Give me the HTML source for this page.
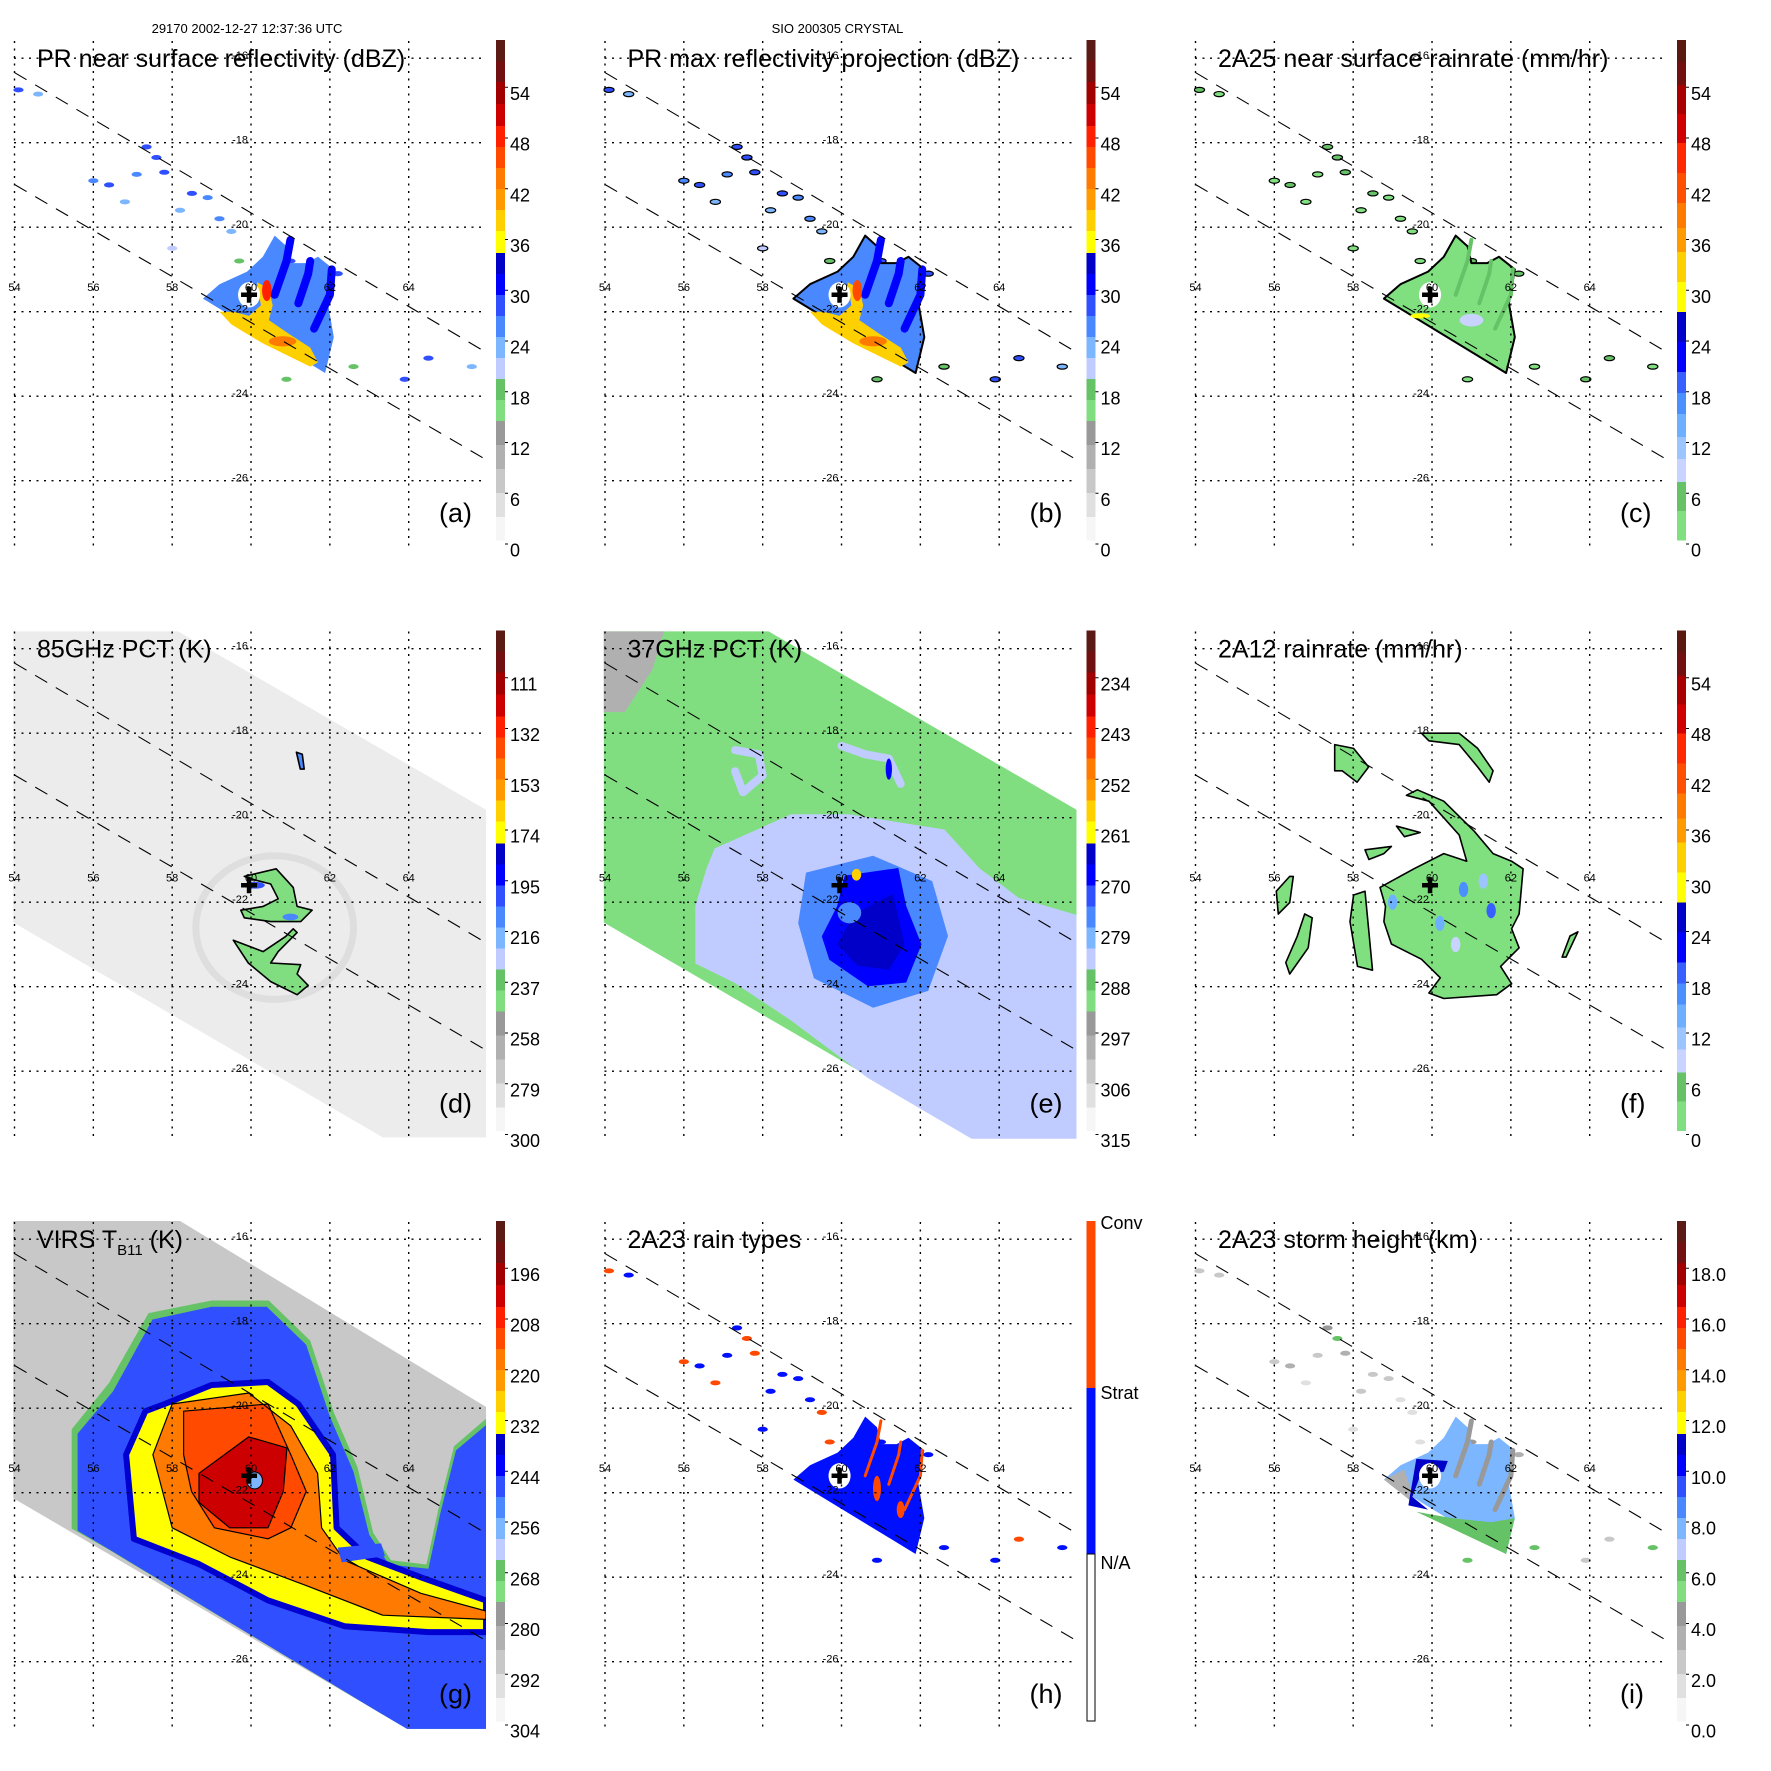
<!DOCTYPE html>
<html><head><meta charset="utf-8">
<style>html,body{margin:0;padding:0;background:#fff;}svg{display:block;font-family:"Liberation Sans",Arial,sans-serif;}</style>
</head><body>
<svg id="fig" width="1771" height="1771" viewBox="0 0 1771 1771"></svg>
<script>
const NS='http://www.w3.org/2000/svg';
// ---------- data ----------
const lonTicks=[54,56,58,60,62,64];
const latTicks=[-16,-18,-20,-22,-24,-26];
const stormCenter=[59.95,-21.6];
const swathUpper=[[54,-16.34],[65.94,-22.95]];
const swathLower=[[54,-18.99],[65.94,-25.49]];
const tmiSwath=[[53.97,-15.59],[58.15,-15.59],[65.96,-19.81],[65.96,-27.57],[63.35,-27.57],[53.97,-22.48]];
const virsSwath=[[53.97,-15.57],[58.2,-15.57],[65.96,-19.97],[65.96,-27.59],[63.96,-27.59],[53.97,-22.13]];
const labelsDBZ=['0','6','12','18','24','30','36','42','48','54'];
const labelsRain=['0','6','12','18','24','30','36','42','48','54'];
const labels85=['300','279','258','237','216','195','174','153','132','111'];
const labels37=['315','306','297','288','279','270','261','252','243','234'];
const labelsVirs=['304','292','280','268','256','244','232','220','208','196'];
const labelsHeight=['0.0','2.0','4.0','6.0','8.0','10.0','12.0','14.0','16.0','18.0'];
const prMain=[[58.78,-21.69],[59.2,-21.35],[59.9,-21.05],[60.3,-20.7],[60.6,-20.2],[60.9,-20.45],[61.0,-20.85],[61.4,-20.85],[61.7,-20.7],[62.1,-21.0],[61.95,-21.8],[62.1,-22.6],[61.88,-23.45]];
const prCore=[[60.15,-21.3],[60.45,-21.45],[60.55,-21.85],[60.45,-22.2],[61.0,-22.55],[61.5,-22.85],[61.7,-23.2],[61.5,-23.3],[60.3,-22.75],[59.5,-22.3],[59.2,-22.0],[59.55,-22.0],[59.95,-22.1],[60.25,-21.85],[60.2,-21.55]];
const prArms=[[[60.6,-21.6],[60.9,-20.8],[61.0,-20.3]],[[61.2,-21.8],[61.45,-21.1],[61.5,-20.8]],[[61.6,-22.4],[62.0,-21.6],[62.05,-21.0]]];
const prCellLon=[54.1,54.6,57.35,57.6,57.1,56.4,57.8,58.5,58.9,56.8,58.2,59.2,59.5,61.0,62.2,64.5,65.6,63.9,59.7,60.9,62.6,56.0,58.0];
const prCellLat=[-16.75,-16.85,-18.1,-18.35,-18.75,-19.0,-18.7,-19.2,-19.3,-19.4,-19.6,-19.8,-20.1,-20.8,-21.1,-23.1,-23.3,-23.6,-20.8,-23.6,-23.3,-18.9,-20.5];
const prCellDBZ=[28,24,30,28,26,28,30,28,26,24,24,26,24,30,28,30,24,28,18,18,18,26,22];
const prCellHgt=[3,3,5,6,3,4,4,3,3,2,3,2,2,5,4,3,6,3,2,6,6,3,2];
const virsVals=[266,248,230,218,210,199];
const virsPolys=[
 [[55.45,-20.5],[56.4,-19.4],[57.4,-17.75],[59,-17.45],[60.45,-17.45],[61.5,-18.4],[62.1,-20.1],[62.7,-21.4],[63.1,-22.95],[63.55,-23.6],[64.45,-23.7],[64.75,-22.4],[65.15,-20.9],[65.96,-20.25],[65.96,-27.6],[63.96,-27.6],[56.3,-23.3],[55.45,-22.85]],
 [[56.5,-19.6],[57.5,-17.9],[59,-17.6],[60.4,-17.6],[61.4,-18.5],[62,-20.2],[62.6,-21.5],[63.0,-23.0],[63.5,-23.7],[64.5,-23.8],[64.8,-22.5],[65.2,-21.0],[65.96,-20.4],[65.96,-27.6],[63.96,-27.6],[56.5,-23.4],[55.6,-22.9],[55.6,-20.6]],
 [[57.32,-20.07],[57.81,-19.9],[59,-19.45],[60.43,-19.38],[61.2,-19.9],[62.08,-21.1],[62.17,-22.83],[62.95,-23.52],[64.3,-24.0],[65.96,-24.55],[65.96,-25.3],[64.5,-25.3],[62.37,-25.16],[60.43,-24.55],[58.68,-23.69],[57.03,-23.09],[56.83,-21.1]],
 [[58,-19.9],[59.94,-19.64],[61.01,-20.42],[61.69,-21.54],[61.79,-22.83],[62.37,-23.6],[64.31,-24.38],[65.96,-24.8],[65.96,-25.0],[63.34,-24.9],[61.4,-24.2],[59.46,-23.52],[58,-22.83],[57.51,-21.1]],
 [[58.29,-20.07],[60.43,-19.9],[61.01,-21.1],[61.4,-21.97],[61.01,-22.83],[60.43,-23.09],[59.07,-22.83],[58.49,-21.97],[58.29,-21.1]],
 [[58.68,-21.54],[59.94,-20.68],[60.91,-20.94],[60.82,-21.97],[60.43,-22.83],[59.46,-22.83],[58.68,-22.23]]
];
const pct37Vals=[300,282,276,268,265];
const pct37Polys=[
 [[53.97,-15.59],[55.5,-15.59],[55.2,-16.5],[54.5,-17.5],[53.97,-17.5]],
 [[56.58,-21.19],[56.78,-20.73],[58.72,-19.92],[60.18,-19.92],[62.61,-20.28],[63.5,-21.2],[64.5,-21.9],[65.96,-22.3],[65.96,-27.6],[63.3,-27.6],[60.67,-26.16],[58.72,-24.8],[57.27,-23.9],[56.29,-23.45],[56.29,-22.09]],
 [[59.1,-21.3],[60.8,-20.9],[62.3,-21.5],[62.7,-22.8],[62.2,-24.1],[60.8,-24.5],[59.3,-23.8],[58.9,-22.5]],
 [[60.08,-21.37],[61.44,-21.19],[61.64,-22.09],[62.03,-23],[61.64,-23.9],[60.67,-23.99],[59.69,-23.36],[59.5,-22.81],[59.89,-22.09]],
 [[60.3,-22.3],[61.3,-21.8],[61.6,-23.0],[61.2,-23.6],[60.4,-23.5],[59.9,-23.0]]
];
const pct85Polys=[
 [[59.83,-21.39],[60.64,-21.21],[61.07,-21.65],[61.17,-22.1],[61.55,-22.19],[61.26,-22.46],[60.5,-22.46],[59.83,-22.37],[59.74,-22.19],[60.31,-22.1],[60.69,-21.92],[60.5,-21.57],[60.12,-21.48]],
 [[59.55,-22.9],[60.31,-23.17],[60.88,-22.81],[61.07,-22.63],[61.17,-22.72],[60.69,-23.17],[60.5,-23.44],[61.26,-23.48],[61.17,-23.7],[61.45,-23.97],[61.17,-24.19],[60.5,-23.88],[59.93,-23.44]],
 [[61.15,-18.45],[61.3,-18.5],[61.35,-18.85],[61.25,-18.85]]
];
const pct85Vals=[240,240,205];
const rain12Polys=[
 [[58.68,-21.65],[59.54,-21.21],[60.3,-20.85],[60.88,-21.03],[60.69,-20.41],[59.92,-19.61],[59.35,-19.47],[59.63,-19.34],[60.3,-19.61],[61.07,-20.32],[61.55,-20.85],[62.02,-21.03],[62.31,-21.21],[62.21,-22.28],[62.02,-22.63],[62.21,-23.08],[61.74,-23.52],[62.02,-23.93],[61.64,-24.19],[60.3,-24.28],[59.92,-24.15],[60.21,-23.79],[59.73,-23.35],[58.97,-22.99],[58.78,-22.46],[58.82,-22.1]],
 [[59.73,-18.0],[60.69,-18.0],[61.16,-18.36],[61.55,-18.89],[61.45,-19.16],[61.16,-18.8],[60.69,-18.27],[59.92,-18.18]],
 [[57.53,-18.27],[58.01,-18.36],[58.39,-18.8],[58.1,-19.16],[57.72,-18.89],[57.53,-18.89]],
 [[58.01,-21.83],[58.3,-21.74],[58.39,-22.63],[58.49,-23.61],[58.11,-23.52],[57.92,-22.46]],
 [[56.77,-22.28],[56.96,-22.37],[56.86,-23.08],[56.39,-23.7],[56.29,-23.43],[56.58,-22.81]],
 [[56.39,-21.39],[56.48,-21.39],[56.39,-22.01],[56.1,-22.28],[56.05,-21.74]],
 [[58.3,-20.76],[58.97,-20.68],[58.78,-20.85],[58.4,-20.99]],
 [[59.1,-20.2],[59.7,-20.35],[59.3,-20.45]],
 [[63.5,-22.8],[63.7,-22.7],[63.4,-23.3],[63.3,-23.3]]
];
const rain12SpotLon=[60.8,61.5,60.2,61.3,59.0,60.6];
const rain12SpotLat=[-21.7,-22.2,-22.5,-21.5,-22.0,-23.0];
const rain12SpotVal=[18,20,14,12,14,10];
// ---------- helpers ----------
function X(lon){return 14.5+(lon-54)*39.42;}
function Y(lat){return 58.2+(-16-lat)*42.25;}
function pts(arr){return arr.map(p=>X(p[0]).toFixed(1)+','+Y(p[1]).toFixed(1)).join(' ');}
function mk(tag,attrs,parent){const e=document.createElementNS(NS,tag);for(const k in attrs)e.setAttribute(k,attrs[k]);parent.appendChild(e);return e;}
const binsA=[[40,61,'#5c1a14'],[61,82,'#701010'],[82,104,'#a00000'],[104,126,'#cc0000'],[126,147,'#ff2000'],[147,168,'#ff4a00'],[168,189,'#ff7a00'],[189,210,'#ff9a00'],[210,231,'#ffd000'],[231,253,'#ffff00'],[253,274,'#0000c8'],[274,295,'#0000ff'],[295,316,'#3050ff'],[316,337,'#4a88ff'],[337,358,'#7cb6ff'],[358,379,'#c0ccff'],[379,400,'#66c266'],[400,421,'#80de80'],[421,445,'#999999'],[445,469,'#b0b0b0'],[469,493,'#c8c8c8'],[493,517,'#e0e0e0'],[517,540,'#f6f6f6']];
const binsC=[[40,62,'#5a1810'],[62,85,'#701010'],[85,114,'#a80000'],[114,143,'#d00000'],[143,173,'#ff2a00'],[173,203,'#ff5000'],[203,228,'#ff7a00'],[228,252,'#ff9a00'],[252,282,'#ffd000'],[282,312,'#ffff00'],[312,342,'#0000c8'],[342,372,'#0000ff'],[372,393,'#3860ff'],[393,414,'#4a90ff'],[414,437,'#6cb0ff'],[437,459,'#9cc4ff'],[459,482,'#c8d4ff'],[482,511,'#66c266'],[511,540,'#80e080']];
function binColor(bins,y){y=Math.max(41,Math.min(539,y));for(const b of bins){if(y>=b[0]&&y<b[1])return b[2];}return bins[bins.length-1][2];}
function yLin(v,v0,step){return 550-(v-v0)/step*50.75;}
const svg=document.getElementById('fig');
let clipN=0;
function panel(col,row,name){
  const g=mk('g',{transform:'translate('+(col*590.5)+','+(row*590.5)+')'},svg);
  
  
  const cp=mk('clipPath',{id:'clip'+clipN},g);
  mk('rect',{x:13,y:40,width:474,height:509},cp);
  const d=mk('g',{'clip-path':'url(#clip'+clipN+')'},g);
  
  
  clipN++;
  return [g,d];
}
function poly(parent,arr,fill,stroke,sw,name){
  const p=mk('polygon',{points:pts(arr),fill:fill,stroke:stroke||'none','stroke-width':sw||0,'stroke-linejoin':'round'},parent);
  
  
  return p;
}
function ell(parent,lon,lat,rlon,rlat,fill,stroke,sw,name){
  const e=mk('ellipse',{cx:X(lon),cy:Y(lat),rx:rlon*39.42,ry:rlat*42.25,fill:fill,stroke:stroke||'none','stroke-width':sw||0},parent);
  
  
  return e;
}
function line(parent,arr,stroke,sw,name){
  const l=mk('polyline',{points:pts(arr),fill:'none',stroke:stroke,'stroke-width':sw,'stroke-linecap':'round','stroke-linejoin':'round'},parent);
  
  
  return l;
}
function overlay(g,title,letter,labels,bins,special){
  for(const lon of lonTicks){
    const l=mk('line',{x1:X(lon),y1:41,x2:X(lon),y2:549,stroke:'#000','stroke-width':1.4,'stroke-dasharray':'2,5.5'},g);
    
    
    const t=mk('text',{x:X(lon),y:291,'font-size':11,'text-anchor':'middle'},g);
    
    
    t.textContent=String(lon);
  }
  for(const lat of latTicks){
    const l=mk('line',{x1:14,y1:Y(lat),x2:486,y2:Y(lat),stroke:'#000','stroke-width':1.4,'stroke-dasharray':'2,5.5'},g);
    
    
    const t=mk('text',{x:X(60)-3,y:Y(lat)+1,'font-size':11,'text-anchor':'end'},g);
    
    
    t.textContent=String(lat);
  }
  for(const sw of [swathUpper,swathLower]){
    const l=mk('line',{x1:X(sw[0][0]),y1:Y(sw[0][1]),x2:X(sw[1][0]),y2:Y(sw[1][1]),stroke:'#000','stroke-width':1.1,'stroke-dasharray':'14,10'},g);
    
    
  }
  const cx=X(stormCenter[0]),cy=Y(stormCenter[1]);
  const cr=mk('path',{d:`M${cx-8},${cy}H${cx+8}M${cx},${cy-8}V${cy+8}`,stroke:'#000','stroke-width':4.5},g);
  
  
  const tt=mk('text',{x:37,y:67,'font-size':25},g);
  
  
  if(title==='VIRS'){
    tt.textContent='VIRS T';
    const s=mk('tspan',{'font-size':15,dy:7},tt);s.textContent='B11';
    const s2=mk('tspan',{dy:-7},tt);s2.textContent=' (K)';
  } else tt.textContent=title;
  const lt=mk('text',{x:439,y:522,'font-size':27},g);
  
  
  lt.textContent='('+letter+')';
  const cb=mk('g',{},g);
  
  
  if(special){
    const segs=[[40,207,'#ff4800'],[207,373,'#0010ff'],[373,540,'#ffffff']];
    for(const s of segs){const r=mk('rect',{x:496,y:s[0],width:9,height:s[1]-s[0],fill:s[2]},cb);}
    const bx=mk('rect',{x:496.5,y:373,width:8,height:167,fill:'none',stroke:'#000','stroke-width':1},cb);
    
    
    const names=[['Conv',48],['Strat',218],['N/A',388]];
    for(const n of names){const t=mk('text',{x:510,y:n[1],'font-size':18},cb);t.textContent=n[0];}
    return;
  }
  for(const b of bins){const r=mk('rect',{x:496,y:b[0],width:9,height:b[1]-b[0]+0.5,fill:b[2]},cb);}
  labels.forEach((lab,i)=>{
    const yy=550-i*50.75;
    const tk=mk('line',{x1:505,y1:yy-6,x2:508,y2:yy-6,stroke:'#000','stroke-width':1},cb);
    
    
    const t=mk('text',{x:510,y:yy+6.5,'font-size':18},cb);
    
    
    t.textContent=lab;
  });
}
const h1=mk('text',{x:247,y:33,'font-size':13,'text-anchor':'middle'},svg);


h1.textContent='29170 2002-12-27 12:37:36 UTC';
const h2=mk('text',{x:590.5+247,y:33,'font-size':13,'text-anchor':'middle'},svg);


h2.textContent='SIO 200305 CRYSTAL';

const cA=v=>binColor(binsA,yLin(v,0,6));
const cC=v=>binColor(binsC,yLin(v,0,6));
function prPanel(d,mode){
  const outline=(mode==='b'||mode==='c')?'#000':'none';
  prCellLon.forEach((lon,i)=>{
    let f;
    if(mode==='a'||mode==='b') f=cA(prCellDBZ[i]);
    else if(mode==='c') f=cC(prCellDBZ[i]>26?8:3);
    else if(mode==='h') f=(i%3===0)?'#ff4800':'#0010ff';
    else f=binColor(binsA,yLin(prCellHgt[i],0,2));
    ell(d,lon,prCellLat[i],0.13,0.06,f,outline,outline==='none'?0:1.2,'rain-cell');
  });
  if(mode==='a'||mode==='b'){
    poly(d,prMain,cA(27),outline,outline==='none'?0:2,'rain-region');
    for(const a of prArms) line(d,a,cA(32),8,'spiral-band');
    poly(d,prCore,cA(mode==='b'?40:38),'none',0,'convective-core');
    ell(d,60.4,-21.5,0.12,0.25,cA(mode==='b'?46:50),'none',0,'intense-cell');
    ell(d,60.8,-22.7,0.35,0.12,cA(44),'none',0,'intense-cell');
  } else if(mode==='c'){
    poly(d,prMain,cC(3),'#000',2,'rain-region');
    for(const a of prArms) line(d,a,cC(5),4,'spiral-band');
    ell(d,61.0,-22.2,0.3,0.15,cC(10),'none',0,'heavy-rain-patch');
    ell(d,59.7,-22.1,0.25,0.06,cC(30),'none',0,'intense-cell');
  } else if(mode==='h'){
    poly(d,prMain,'#0010ff','none',0,'stratiform-region');
    for(const a of prArms) line(d,a,'#ff4800',3,'convective-band');
    ell(d,60.9,-21.9,0.1,0.3,'#ff4800','none',0,'convective-cell');
    ell(d,61.5,-22.4,0.1,0.2,'#ff4800','none',0,'convective-cell');
  } else {
    poly(d,prMain,binColor(binsA,yLin(8,0,2)),'none',0,'storm-height-region');
    poly(d,[[58.78,-21.69],[59.3,-21.45],[59.6,-22.3]],binColor(binsA,yLin(4,0,2)),'none',0,'shallow-region');
    poly(d,[[59.6,-22.45],[60.5,-22.6],[61.5,-22.7],[62.1,-22.6],[61.88,-23.45]],binColor(binsA,yLin(6,0,2)),'none',0,'low-height-band');
    for(const a of prArms) line(d,a,binColor(binsA,yLin(4.5,0,2)),5,'gray-band');
    poly(d,[[59.6,-21.2],[60.4,-21.25],[60.3,-21.5],[59.7,-21.6],[59.5,-22.1],[59.9,-22.4],[59.4,-22.3]],binColor(binsA,yLin(11,0,2)),'none',0,'tall-eyewall');
  }
  ell(d,59.95,-21.6,0.28,0.3,'#fff','none',0,'eye');
}
let P=panel(0,0,'panel-a-near-surface-reflectivity');
prPanel(P[1],'a');
overlay(P[0],'PR near surface reflectivity (dBZ)','a',labelsDBZ,binsA);
P=panel(1,0,'panel-b-max-reflectivity');
prPanel(P[1],'b');
overlay(P[0],'PR max reflectivity projection (dBZ)','b',labelsDBZ,binsA);
P=panel(2,0,'panel-c-2a25-rainrate');
prPanel(P[1],'c');
overlay(P[0],'2A25 near surface rainrate (mm/hr)','c',labelsRain,binsC);
P=panel(0,1,'panel-d-85ghz-pct');
{const d=P[1];const c85=v=>binColor(binsA,yLin(300-v,0,21));
 poly(d,tmiSwath,'#ececec','none',0,'tmi-swath');
 ell(d,60.6,-22.6,2.0,1.7,'none','#dedede',7,'cold-ring');
 pct85Polys.forEach((p,i)=>poly(d,p,c85(pct85Vals[i]),'#000',1.6,'ice-scattering-region'));
 ell(d,60.1,-21.6,0.25,0.08,c85(200),'none',0,'deep-convection');
 ell(d,61.0,-22.35,0.2,0.08,c85(205),'none',0,'deep-convection');}
overlay(P[0],'85GHz PCT (K)','d',labels85,binsA);
P=panel(1,1,'panel-e-37ghz-pct');
{const d=P[1];const c37=v=>binColor(binsA,yLin(315-v,0,9));
 poly(d,tmiSwath,c37(290),'none',0,'tmi-swath');
 pct37Polys.forEach((p,i)=>poly(d,p,c37(pct37Vals[i]),'none',0,'pct-region'));
 line(d,[[57.3,-18.4],[57.9,-18.5],[58.0,-19.0],[57.5,-19.4],[57.3,-18.9]],c37(282),8,'pct-loop');
 line(d,[[60.0,-18.3],[60.6,-18.5],[61.2,-18.6],[61.5,-19.2]],c37(282),8,'pct-arc');
 ell(d,61.2,-18.85,0.08,0.25,c37(268),'none',0,'pct-spot');
 ell(d,60.2,-22.25,0.3,0.25,c37(276),'none',0,'eye-region');
 ell(d,60.38,-21.35,0.12,0.14,c37(258),'none',0,'pct-warm-spot');}
overlay(P[0],'37GHz PCT (K)','e',labels37,binsA);
P=panel(2,1,'panel-f-2a12-rainrate');
{const d=P[1];
 rain12Polys.forEach(p=>poly(d,p,cC(3),'#000',1.6,'rain-region'));
 rain12SpotLon.forEach((lon,i)=>ell(d,lon,rain12SpotLat[i],0.12,0.18,cC(rain12SpotVal[i]),'none',0,'heavy-rain-spot'));}
overlay(P[0],'2A12 rainrate (mm/hr)','f',labelsRain,binsC);
P=panel(0,2,'panel-g-virs-tb11');
{const d=P[1];const cv=v=>binColor(binsA,yLin(304-v,0,12));
 poly(d,virsSwath,cv(285),'none',0,'virs-swath');
 const cp=mk('clipPath',{id:'virsclip'},d);
 mk('polygon',{points:pts(virsSwath)},cp);
 const vg=mk('g',{'clip-path':'url(#virsclip)'},d);
 
 
 virsPolys.forEach((p,i)=>poly(vg,p,cv(virsVals[i]),i>=2?'#0000d0':'none',i===2?6:0,'brightness-temperature-region'));
 virsPolys.slice(3).forEach(p=>poly(vg,p,'none','#000',1.2,'contour-line'));
 poly(vg,[[62.2,-23.3],[63.3,-23.2],[63.4,-23.5],[62.3,-23.65]],cv(244),'none',0,'cold-band');
 ell(vg,60.09,-21.71,0.2,0.2,cv(256),'#000',1,'eye');}
overlay(P[0],'VIRS','g',labelsVirs,binsA);
P=panel(1,2,'panel-h-rain-types');
prPanel(P[1],'h');
overlay(P[0],'2A23 rain types','h',null,null,true);
P=panel(2,2,'panel-i-storm-height');
prPanel(P[1],'i');
overlay(P[0],'2A23 storm height (km)','i',labelsHeight,binsA);
</script>
</body></html>
